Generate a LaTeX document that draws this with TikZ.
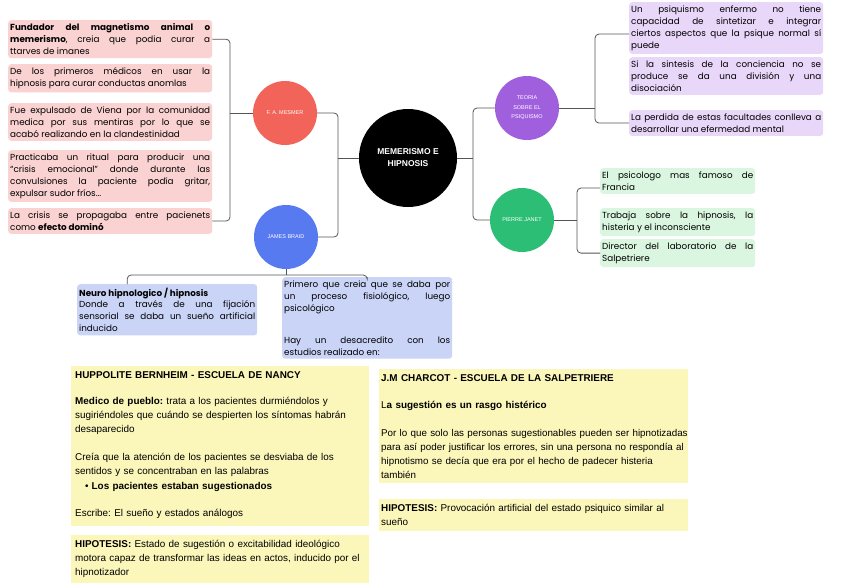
\documentclass[tikz,border=0pt]{standalone}
\usepackage{fontspec}
\setmainfont{Liberation Sans}
\newfontfamily\mapfont{Poppins}
\frenchspacing
\definecolor{mesmerred}{RGB}{242, 100, 90}
\definecolor{braidblue}{RGB}{88, 122, 240}
\definecolor{teoriapurple}{RGB}{160, 96, 222}
\definecolor{janetgreen}{RGB}{44, 190, 116}
\definecolor{pinknote}{RGB}{250, 210, 210}
\definecolor{purplenote}{RGB}{233, 215, 250}
\definecolor{greennote}{RGB}{218, 246, 224}
\definecolor{bluenote}{RGB}{202, 212, 246}
\definecolor{yellownote}{RGB}{251, 246, 186}
\definecolor{linkgray}{RGB}{85, 85, 85}
\usetikzlibrary{positioning, calc}

\begin{document}
\begin{tikzpicture}[
                x=1pt, y=-1pt,
                hub/.style={circle, fill=black, text=white, minimum size=98pt, inner sep=0pt, align=center, font=\fontsize{8.5}{12}\selectfont\bfseries},
                topic/.style={circle, text=white, minimum size=64pt, inner sep=0pt, align=center, font=\fontsize{5.5}{9.5}\selectfont},
                note/.style={rectangle, rounded corners=3pt, inner xsep=2pt, inner ysep=3.5pt, anchor=north west, align=justify, font=\mapfont\fontsize{8.8}{11.9}\selectfont},
                card/.style={rectangle, fill=yellownote, inner xsep=4pt, inner ysep=5pt, anchor=north west, align=left, font=\fontsize{9.9}{14}\selectfont},
                link/.style={draw=linkgray, line width=0.8pt, rounded corners=4pt}
            ]%
            \useasboundingbox (0,0) rectangle (848,586);
            %
            % Nodo central y temas
            \node[hub] (hub) at (408,158) {MEMERISMO E\\HIPNOSIS};
            \node[topic, fill=mesmerred] (mesmer) at (285,113) {F. A. MESMER};
            \node[topic, fill=braidblue] (braid) at (286,237) {JAMES BRAID};
            \node[topic, fill=teoriapurple] (teoria) at (527,108) {TEORIA\\SOBRE EL\\PSIQUISMO};
            \node[topic, fill=janetgreen] (janet) at (522,220) {PIERRE JANET};
            %
            % Notas de Mesmer
            \node[note, fill=pinknote, text width=200pt] (mes1) at (8,20) {\textbf{Fundador del magnetismo animal o}\linebreak \textbf{memerismo}, creia que podia curar a\linebreak ttarves de imanes};
            \node[note, fill=pinknote, text width=200pt] (mes2) at (8,64) {De los primeros médicos en usar la\linebreak hipnosis para curar conductas anomlas};
            \node[note, fill=pinknote, text width=200pt] (mes3) at (8,103) {Fue expulsado de Viena por la comunidad\linebreak medica por sus mentiras por lo que se\linebreak acabó realizando en la clandestinidad};
            \node[note, fill=pinknote, text width=200pt] (mes4) at (8,150) {Practicaba un ritual para producir una\linebreak “crisis emocional” donde durante las\linebreak convulsiones la paciente podía gritar,\linebreak expulsar sudor fríos...};
            \node[note, fill=pinknote, text width=200pt] (mes5) at (8,208) {La crisis se propagaba entre pacienets\linebreak como \textbf{efecto dominó}};
            %
            % Notas de la teoria
            \node[note, fill=purplenote, text width=190pt] (teo1) at (629,2) {Un psiquismo enfermo no tiene\linebreak capacidad de sintetizar e integrar\linebreak ciertos aspectos que la psique normal sí\linebreak puede};
            \node[note, fill=purplenote, text width=190pt] (teo2) at (629,57) {Si la sintesis de la conciencia no se\linebreak produce se da una división y una\linebreak disociación};
            \node[note, fill=purplenote, text width=190pt] (teo3) at (629,110) {La perdida de estas facultades conlleva a\linebreak desarrollar una efermedad mental};
            %
            % Notas de Janet
            \node[note, fill=greennote, text width=151pt] (jan1) at (600,168) {El psicologo mas famoso de\linebreak Francia};
            \node[note, fill=greennote, text width=151pt] (jan2) at (600,208) {Trabaja sobre la hipnosis, la\linebreak histeria y el inconsciente};
            \node[note, fill=greennote, text width=151pt] (jan3) at (600,239) {Director del laboratorio de la\linebreak Salpetriere};
            %
            % Notas de Braid
            \node[note, fill=bluenote, text width=176pt] (braid1) at (77,284) {\textbf{Neuro hipnologico / hipnosis}\\ Donde a través de una fijación\linebreak sensorial se daba un sueño artificial\linebreak inducido};
            \node[note, fill=bluenote, text width=166pt] (braid2) at (282,277) {Primero que creia que se daba por\linebreak un proceso fisiológico, luego\linebreak psicológico\\[20pt] Hay un desacredito con los\linebreak estudios realizado en:};
            %
            % Escuelas
            \node[card, text width=290pt] (nancy) at (71,366) {\textbf{HUPPOLITE BERNHEIM - ESCUELA DE NANCY}\\[12pt]
                \textbf{Medico de pueblo:} trata a los pacientes durmiéndolos y\\ sugiriéndoles que cuándo se despierten los síntomas habrán\\ desaparecido\\[14pt]
                Creía que la atención de los pacientes se desviaba de los\\ sentidos y se concentraban en las palabras\\[1pt]
                \hspace*{10pt}\textbullet\hspace{3pt}\textbf{Los pacientes estaban sugestionados}\\[13pt]
                Escribe: El sueño y estados análogos\\[-9pt]\mbox{}};
            \node[card, text width=290pt] (nancyhip) at (71,535) {\textbf{HIPOTESIS:} Estado de sugestión o excitabilidad ideológico\\ motora capaz de transformar las ideas en actos, inducido por el\\ hipnotizador};
            \node[card, text width=305pt, inner xsep=2pt] (charcot) at (379,369) {\textbf{J.M CHARCOT - ESCUELA DE LA SALPETRIERE}\\[13pt]
                L\textbf{a sugestión es un rasgo histérico}\\[14pt]
                \fontsize{9.8}{14}\selectfont
                \mbox{Por lo que solo las personas sugestionables pueden ser hipnotizadas}\\ \mbox{para así poder justificar los errores, sin una persona no respondía al}\\ hipnotismo se decía que era por el hecho de padecer histeria\\ también};
            \node[card, text width=305pt, inner xsep=2pt] (charcothip) at (379,499) {\textbf{HIPOTESIS:} Provocación artificial del estado psiquico similar al\\ sueño};
            %
            % Conexiones
            \coordinate (hubl) at (338,158);
            \coordinate (hubr) at (473,158);
            \coordinate (mesl) at (230,113);
            \coordinate (teor) at (595,108);
            \coordinate (janr) at (577,220);
            \coordinate (braidb) at (286,275);
            \draw[link] (hub) -- (hubl);
            \draw[link] (mesmer.east) -| (hubl) |- (braid.east);
            \draw[link] (hub) -- (hubr);
            \draw[link] (teoria.west) -| (hubr) |- (janet.west);
            \draw[link] (mesmer) -- (mesl);
            \draw[link] (mes1.east) -| (mesl) |- (mes5.east);
            \draw[link] (teoria) -- (teor);
            \draw[link] ([yshift=-6pt]teo1.west) -| (teor) |- (teo3.west);
            \draw[link] (janet) -- (janr);
            \draw[link] ([yshift=-7pt]jan1.west) -| (janr) |- (jan3.west);
            \draw[link] (braid) -- (braidb);
            \draw[link] ([xshift=-40pt]braid1.north) |- (braidb) -| (braid2.north);
        \end{tikzpicture}
\end{document}
